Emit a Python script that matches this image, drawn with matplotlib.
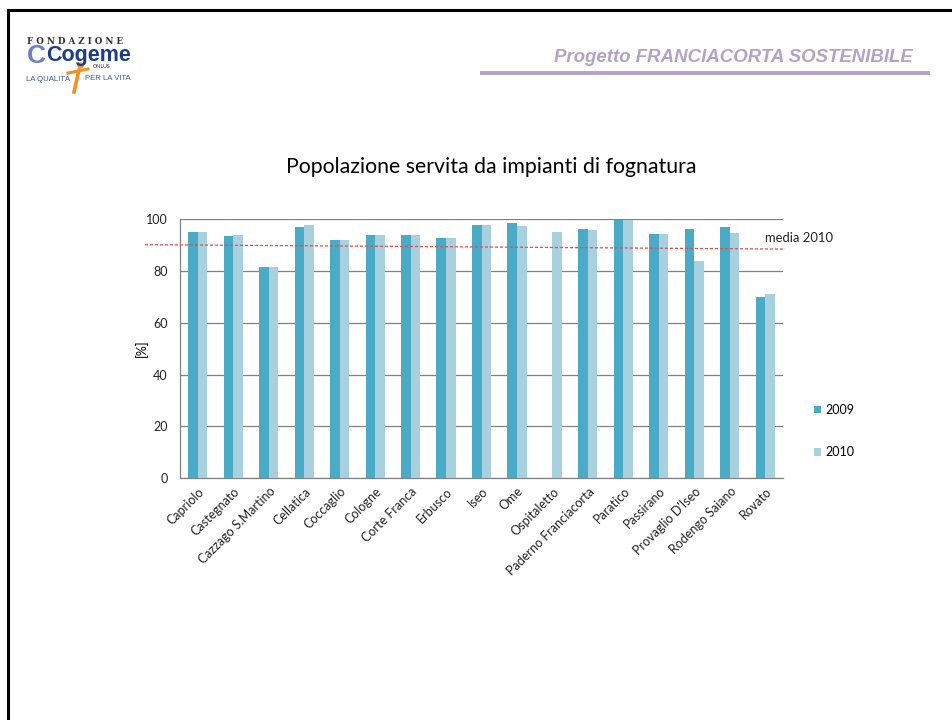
import numpy as np
import matplotlib
matplotlib.use('Agg')
import matplotlib.pyplot as plt
import matplotlib.transforms as mtransforms
from matplotlib.lines import Line2D

# ---------------------------------------------------------
# Data
# ---------------------------------------------------------
comuni = ['Capriolo', 'Castegnato', 'Cazzago S.Martino', 'Cellatica', 'Coccaglio',
          'Cologne', 'Corte Franca', 'Erbusco', 'Iseo', 'Ome', 'Ospitaletto',
          'Paderno Franciacorta', 'Paratico', 'Passirano', "Provaglio D'Iseo",
          'Rodengo Saiano', 'Rovato']
val_2009 = [95.0, 93.4, 81.6, 96.9, 91.8, 93.7, 93.7, 92.5, 97.6, 98.3, np.nan,
            96.0, 99.6, 94.1, 96.0, 96.8, 70.0]
val_2010 = [95.0, 93.8, 81.6, 97.7, 91.8, 93.7, 93.7, 92.5, 97.6, 97.2, 94.9,
            95.6, 99.6, 94.1, 83.7, 94.5, 71.0]
y_ticks = [0, 20, 40, 60, 80, 100]

# the "media 2010" line on the slide is hand drawn, slightly tilted
media_x = [-1.49, 16.56]
media_y = [90.1, 88.4]

col_2009 = '#4aabc6'
col_2010 = '#a9d0df'
lavanda = '#b3a2c8'

plt.rcParams['font.family'] = ['Lato', 'DejaVu Sans']

fig = plt.figure(figsize=(9.52, 7.2), dpi=100)
fig.patch.set_facecolor('white')

# ---------------------------------------------------------
# Slide frame, header and logo
# ---------------------------------------------------------
W, H = 952.0, 720.0
def fx(px): return px / W
def fy(py): return 1 - py / H

fig.add_artist(Line2D([fx(8), 1.0], [fy(10), fy(10)], color='black', lw=2.2))
fig.add_artist(Line2D([fx(8), fx(8)], [fy(10), 0.0], color='black', lw=2.2))

fig.text(fx(913), fy(57), 'Progetto FRANCIACORTA SOSTENIBILE', ha='right', va='center',
         fontsize=13.4, fontweight='bold', fontstyle='italic', color=lavanda,
         family=['Liberation Sans', 'DejaVu Sans'])
fig.add_artist(Line2D([fx(480), fx(930)], [fy(73), fy(73)], color=lavanda, lw=2.8,
                      solid_capstyle='butt'))

# logo (approssimato)
fig.text(fx(27), fy(41), 'F O N D A Z I O N E', ha='left', va='center', fontsize=6.3,
         family=['DejaVu Serif'], color='#333333', fontweight='bold')
fig.text(fx(36), fy(56), 'C', ha='center', va='center', fontsize=19, fontweight='bold',
         color='#6f7fc4', family=['Liberation Sans'])
fig.text(fx(46), fy(55), 'Cogeme', ha='left', va='center', fontsize=15.5,
         fontweight='bold', color='#1d3a8c', family=['Liberation Sans'])
fig.text(fx(93), fy(67), 'ONLUS', ha='left', va='center', fontsize=3.8, color='#333333')
fig.text(fx(26), fy(79), 'LA QUALITÀ', ha='left', va='center', fontsize=5.6,
         color='#3b57a8', family=['Liberation Sans Narrow', 'Liberation Sans'])
fig.text(fx(85), fy(79), 'PER LA VITA', ha='left', va='center', fontsize=5.6,
         color='#3b57a8', family=['Liberation Sans Narrow', 'Liberation Sans'])
fig.add_artist(Line2D([fx(68), fx(88)], [fy(73), fy(69)], color='#f29222', lw=2.2))
fig.add_artist(Line2D([fx(79), fx(74)], [fy(70), fy(92)], color='#f29222', lw=2.6))
fig.add_artist(Line2D([fx(80)], [fy(65)], marker='o', ms=3.5, color='#f29222'))

# ---------------------------------------------------------
# Chart
# ---------------------------------------------------------
ax = fig.add_axes([fx(180), fy(478.3), fx(783) - fx(180), fy(219) - fy(478.3)])
x = np.arange(len(comuni))
bw = 0.27
b1 = ax.bar(x - bw / 2, val_2009, bw, color=col_2009, label='2009', zorder=3)
b2 = ax.bar(x + bw / 2, val_2010, bw, color=col_2010, label='2010', zorder=3)

ax.set_xlim(-0.5, len(comuni) - 0.5)
ax.set_ylim(0, 100)
ax.set_yticks(y_ticks)
ax.set_yticklabels([str(t) for t in y_ticks], fontsize=9, color='#222222')
ax.set_xticks(x)
ax.set_xticklabels(comuni, rotation=45, ha='right', rotation_mode='anchor',
                   fontsize=9, color='#222222')
shift = mtransforms.ScaledTranslation(8 / 100, 0, fig.dpi_scale_trans)
for lab in ax.get_xticklabels():
    lab.set_transform(lab.get_transform() + shift)
ax.tick_params(axis='x', length=0, pad=5)
ax.tick_params(axis='y', length=0, pad=9)
ax.yaxis.grid(True, color='#808080', lw=0.9, zorder=1)
for s in ['top', 'right']:
    ax.spines[s].set_visible(False)
for s in ['left', 'bottom']:
    ax.spines[s].set_color('#808080')
    ax.spines[s].set_linewidth(0.9)
ax.set_ylabel('[%]', fontsize=9)
ax.yaxis.set_label_coords((148 - 180) / 603, 0.5)

ax.plot(media_x, media_y, color='#d9534f', lw=0.9, ls=(0, (2.5, 1.5)),
        clip_on=False, zorder=4)
fig.text(fx(765), fy(238), 'media 2010', ha='left', va='center', fontsize=9.4,
         color='#222222')

fig.text(fx(491), fy(167), 'Popolazione servita da impianti di fognatura',
         ha='center', va='center', fontsize=15.3, color='black')

ax.legend(handles=[b1, b2], loc='center left', bbox_to_anchor=(fx(803), fy(431)),
          bbox_transform=fig.transFigure, frameon=False, fontsize=9,
          handlelength=0.55, handleheight=0.55, handletextpad=0.35,
          labelspacing=2.45)

fig.savefig('out.png', dpi=100, facecolor='white')
